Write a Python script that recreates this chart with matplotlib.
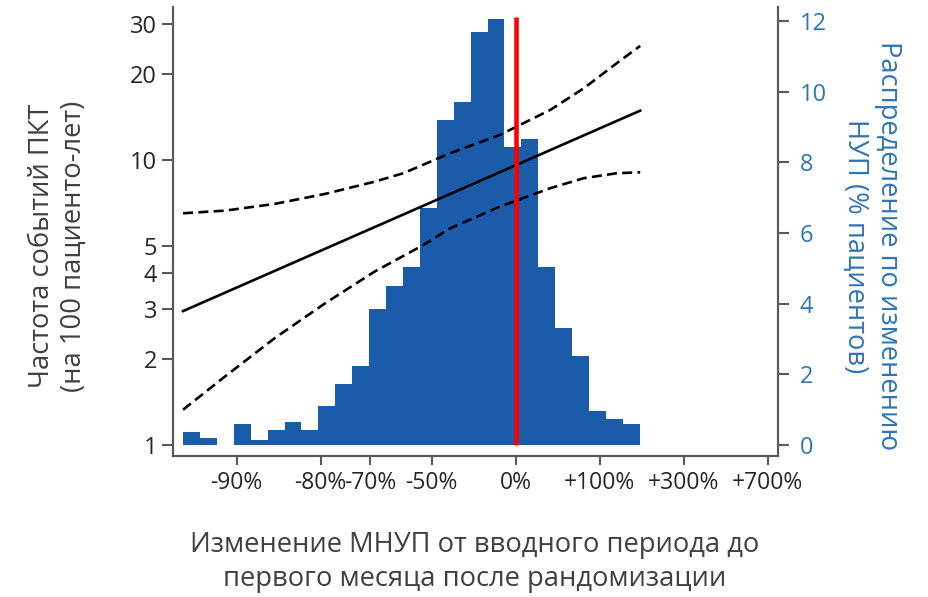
import numpy as np
import matplotlib
matplotlib.use("Agg")
import matplotlib.pyplot as plt

plt.rcParams["font.family"] = ["Open Sans", "DejaVu Sans"]

# ось X: log2 отношения (МНУП месяц 1 / вводный период)
xtick_pct = [-90, -80, -70, -50, 0, 100, 300, 700]
xtick_labels = ["-90%", "-80%", "-70%", "-50%", "0%", "+100%", "+300%", "+700%"]

# гистограмма распределения (% пациентов), бины по log2
hist_start = -3.96
hist_width = 0.2013
hist_pct = [0.37, 0.20, 0.0, 0.59, 0.14, 0.42, 0.65, 0.42, 1.10, 1.73,
            2.24, 3.85, 4.50, 5.04, 6.72, 9.20, 9.71, 11.69, 12.06, 8.44,
            8.66, 5.05, 3.32, 2.52, 0.96, 0.73, 0.59]

# частота событий (на 100 пациенто-лет) и 95% ДИ
x_fit = [-3.96, 1.48]
rate_fit = [2.95, 14.89]

x_upper = [-3.96, -3.46, -2.87, -2.27, -1.68, -1.34, -0.78, -0.19, 0.41, 0.81, 1.20, 1.48]
rate_upper = [6.50, 6.64, 7.01, 7.60, 8.39, 8.98, 10.56, 12.24, 14.98, 17.85, 21.84, 25.12]

x_lower = [-3.96, -3.46, -2.87, -2.27, -1.68, -1.10, -0.78, -0.19, 0.41, 0.81, 1.20, 1.48]
rate_lower = [1.33, 1.74, 2.37, 3.14, 4.06, 5.03, 5.76, 6.86, 7.96, 8.63, 8.98, 9.05]

left_ticks = [1, 2, 3, 4, 5, 10, 20, 30]
right_ticks = [0, 2, 4, 6, 8, 10, 12]

gris = "#595959"
azul = "#2E75B6"
barras = "#1A5CAA"

fig = plt.figure(figsize=(9.29, 5.97), dpi=100)
ax = fig.add_axes([0.1862, 0.2362, 0.6513, 0.7521])
ax2 = ax.twinx()

# barras en el eje derecho, curvas encima
edges = hist_start + hist_width * np.arange(len(hist_pct))
ax2.bar(edges, hist_pct, width=hist_width, align="edge",
        color=barras, linewidth=0)
ax2.set_ylim(-0.311, 12.397)

ax.set_zorder(ax2.get_zorder() + 1)
ax.patch.set_visible(False)

ax.plot(x_fit, rate_fit, color="black", linewidth=1.9)
ax.plot(x_upper, rate_upper, color="black", linewidth=1.9, dashes=(3.8, 2.0))
ax.plot(x_lower, rate_lower, color="black", linewidth=1.9, dashes=(3.8, 2.0))
ax.vlines(0, 1, 31.8, color="#FF0000", linewidth=3.3, zorder=5)

ax.set_yscale("log")
ax.set_ylim(0.915, 34.4)
ax.set_yticks(left_ticks)
ax.set_yticklabels([str(v) for v in left_ticks])
ax.yaxis.set_minor_locator(matplotlib.ticker.NullLocator())

ax.set_xlim(-4.08, 3.12)
ax.set_xticks([np.log2(1 + p / 100) for p in xtick_pct])
ax.set_xticklabels(xtick_labels)

ax2.set_yticks(right_ticks)

for a in (ax, ax2):
    a.spines["top"].set_visible(False)
    for s in ("left", "right", "bottom"):
        a.spines[s].set_color(gris)
        a.spines[s].set_linewidth(1.5)

ax.tick_params(axis="y", length=8, width=1.5, color=gris, pad=3.5,
               labelsize=17, labelcolor="#262626")
ax.tick_params(axis="x", length=6.5, width=1.5, color=gris, pad=4.5,
               labelsize=16.5, labelcolor="#262626")
ax2.tick_params(axis="y", length=7.7, width=1.5, color=gris, pad=8,
                labelsize=17, labelcolor=azul)

fig.text(0.0624, 0.588, "Частота событий ПКТ\n(на 100 пациенто-лет)",
         rotation=90, ha="center", va="center", multialignment="center",
         fontsize=19.7, color="#404040", linespacing=1.2)
fig.text(0.938, 0.588, "Распределение по изменению\nНУП (% пациентов)",
         rotation=270, ha="center", va="center", multialignment="center",
         fontsize=19.7, color=azul, linespacing=1.2)
fig.text(0.511, 0.0586, "Изменение МНУП от вводного периода до\nпервого месяца после рандомизации",
         ha="center", va="center", multialignment="center",
         fontsize=19.7, color="#404040", linespacing=1.25)

fig.savefig("out.png", dpi=100)
